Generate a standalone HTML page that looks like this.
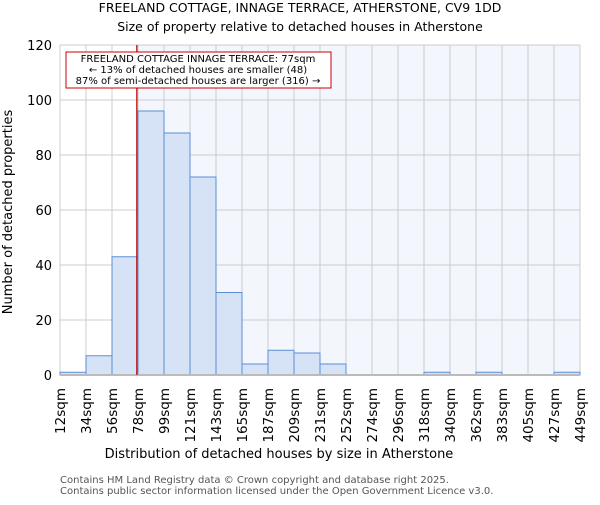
<!DOCTYPE html>
<html><head><meta charset="utf-8"><style>body{margin:0;background:#fff}svg{font-family:"DejaVu Sans","Liberation Sans",sans-serif}</style></head>
<body>
<svg id="c" width="600" height="500" xmlns="http://www.w3.org/2000/svg">
<text x="300" y="12" text-anchor="middle" font-size="12.5">FREELAND COTTAGE, INNAGE TERRACE, ATHERSTONE, CV9 1DD</text>
<text x="300" y="31" text-anchor="middle" font-size="12.5">Size of property relative to detached houses in Atherstone</text>
<g id="plot"></g>
<text x="279" y="458" text-anchor="middle" font-size="13">Distribution of detached houses by size in Atherstone</text>
<text transform="translate(12,212) rotate(-90)" text-anchor="middle" font-size="13">Number of detached properties</text>
<text x="60" y="483" font-size="10" fill="#555">Contains HM Land Registry data © Crown copyright and database right 2025.</text>
<text x="60" y="494" font-size="10" fill="#555">Contains public sector information licensed under the Open Government Licence v3.0.</text>
</svg>
<script>
const categories=["12sqm","34sqm","56sqm","78sqm","99sqm","121sqm","143sqm","165sqm","187sqm","209sqm","231sqm","252sqm","274sqm","296sqm","318sqm","340sqm","362sqm","383sqm","405sqm","427sqm","449sqm"];
const counts=[1,7,43,96,88,72,30,4,9,8,4,0,0,0,1,0,1,0,0,1];
const yTicks=[0,20,40,60,80,100,120];
const propertySize=77;
const binEdges=[12,34,56,78,99,121,143,165,187,209,231,252,274,296,318,340,362,383,405,427,449];
const ns="http://www.w3.org/2000/svg",g=document.getElementById('plot');
const L=60,R=580,T=45,B=375,yMax=120;
const xs=i=>L+(R-L)*i/counts.length;
const ys=v=>B-(B-T)*v/yMax;
function xv(v){for(let i=0;i<binEdges.length-1;i++){if(v<=binEdges[i+1])return xs(i)+(xs(i+1)-xs(i))*(v-binEdges[i])/(binEdges[i+1]-binEdges[i]);}return R;}
function mk(t,a,p){const e=document.createElementNS(ns,t);for(const k in a)e.setAttribute(k,a[k]);(p||g).appendChild(e);return e;}
const px=xv(propertySize);
let bg=mk('rect',{x:px,y:T,width:R-px,height:B-T,fill:'#f3f6fd'});


for(let i=0;i<=counts.length;i++){let l=mk('line',{x1:xs(i),x2:xs(i),y1:T,y2:B,stroke:'#ccc'});}
yTicks.forEach(v=>{let l=mk('line',{x1:L,x2:R,y1:ys(v),y2:ys(v),stroke:'#ccc'});
let t=mk('text',{x:L-8,y:ys(v)+5,'text-anchor':'end','font-size':13});t.textContent=v;});
counts.forEach((c,i)=>{let r=mk('rect',{x:xs(i),y:ys(c),width:xs(i+1)-xs(i),height:B-ys(c),fill:'#d6e2f5',stroke:'#5a8fd6','stroke-width':1});});
let ax=mk('line',{x1:L,x2:R,y1:B,y2:B,stroke:'#bbb','stroke-width':2});
categories.forEach((c,i)=>{let t=mk('text',{transform:`translate(${xs(i)+5},${B+13}) rotate(-90)`,'text-anchor':'end','font-size':13.5});t.textContent=c;});
let rl=mk('line',{x1:px,x2:px,y1:T,y2:B,stroke:'#b00','stroke-width':1.2});
let box=mk('rect',{x:66,y:52,width:265,height:36,fill:'#fff',stroke:'#c00'});
["FREELAND COTTAGE INNAGE TERRACE: 77sqm","← 13% of detached houses are smaller (48)","87% of semi-detached houses are larger (316) →"].forEach((s,i)=>{let t=mk('text',{x:198,y:62+i*11,'text-anchor':'middle','font-size':10});t.textContent=s;});
</script>
</body></html>
